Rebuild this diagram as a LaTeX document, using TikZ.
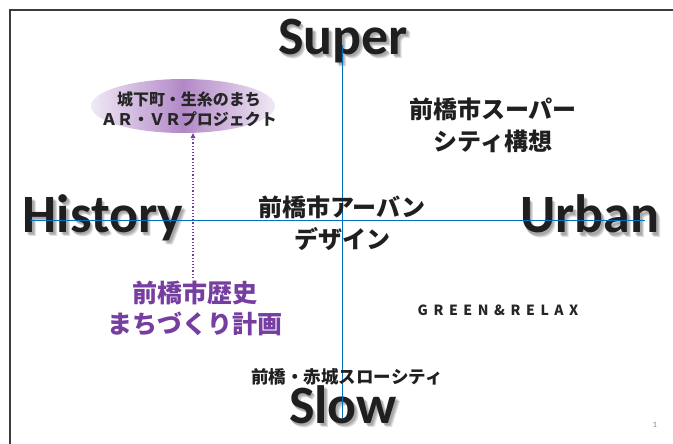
\documentclass[tikz,border=0pt]{standalone}
\usepackage{fontspec}
\usetikzlibrary{arrows.meta,shapes.geometric}
\newfontfamily\carl{Carlito}
\newfontfamily\jpf{Noto Sans CJK JP}
\newfontfamily\jpls{Noto Sans CJK JP}[LetterSpace=40]
\definecolor{axisblue}{RGB}{0,112,192}
\definecolor{histpurple}{RGB}{118,62,160}
\definecolor{ellmid}{RGB}{178,136,200}
\definecolor{elledge}{RGB}{240,233,246}
\definecolor{framegray}{RGB}{60,60,60}
\tikzset{
  bigword/.style={font=\carl\bfseries\fontsize{54}{60}\selectfont, text=black!88, anchor=base, inner sep=0pt},
  bigshadow/.style={bigword, text=black, opacity=0.13},
  jptext/.style={font=\jpf\bfseries\fontsize{24}{32}\selectfont, align=center, inner sep=0pt, text=black!88},
  axisline/.style={draw=axisblue, line width=1pt},
  frameline/.style={draw=framegray, line width=1.6pt},
}
\begin{document}
\begin{tikzpicture}[x=1pt,y=-1pt]
\useasboundingbox (0,0) rectangle (673,444);
% frame
\coordinate (frTR) at (673,10);
\coordinate (frTL) at (10,10);
\coordinate (frBL) at (10,444);
\draw[frameline] (frTR) -- (frTL) -- (frBL);

% big words with soft shadows
\foreach \dx/\dy [count=\i] in {1.5/2, 2.5/3, 3.5/4} {
  \node[bigshadow] (superS\i) at (343+\dx,55+\dy) {Super};
  \node[bigshadow] (historyS\i) at (103+\dx,232+\dy) {History};
  \node[bigshadow] (urbanS\i) at (590+\dx,233+\dy) {Urban};
  \node[bigshadow] (slowS\i) at (343+\dx,423+\dy) {Slow};
}
\node[bigword] (super) at (343,55) {Super};
\node[bigword] (history) at (103,232) {History};
\node[bigword] (urban) at (590,233) {Urban};
\node[bigword] (slow) at (343,423) {Slow};

% axes
\coordinate (vtop) at (342,45);
\coordinate (vbot) at (342,418);
\coordinate (hleft) at (30,220);
\coordinate (hright) at (645,220);
\draw[axisline] (vtop) -- (vbot);
\draw[axisline] (hleft) -- (hright);

% quadrant texts
\node[jptext] (supercity) at (493,125) {前橋市スーパー\\シティ構想};
\node[jptext] (urbandesign) at (342,223) {前橋市アーバン\\デザイン};
\node[jptext, text=histpurple, font=\jpf\bfseries\fontsize{25}{31}\selectfont] (histplan) at (195,308) {前橋市歴史\\まちづくり計画};
\node[inner sep=0pt, font=\jpls\bfseries\fontsize{14}{16}\selectfont, text=black!85] (green) at (498,310) {GREEN\&RELAX};
\node[jptext, font=\jpf\bfseries\fontsize{17.5}{20}\selectfont] (slowcity) at (347,377) {前橋・赤城スローシティ};

% ellipse
\node[ellipse, minimum width=184pt, minimum height=54pt, inner sep=0pt,
      left color=elledge, right color=elledge, middle color=ellmid] (arvr) at (183,106) {};
\node[font=\jpf\bfseries\fontsize{16}{20}\selectfont, align=center, text=black!85, inner sep=0pt] (arvrtext) at (189,109)
      {城下町・生糸のまち\\ＡＲ・ＶＲプロジェクト};

% dotted arrow
\coordinate (arrstart) at (193,278);
\draw[histpurple, line width=1.2pt, dotted, -{Triangle[length=5pt,width=5pt,line width=0pt]}]
  (arrstart) -- (arrstart |- arvr.south);

% page number
\node[font=\carl\fontsize{8}{9}\selectfont, text=black!50] (pgnum) at (655,425) {1};
\end{tikzpicture}
\end{document}
